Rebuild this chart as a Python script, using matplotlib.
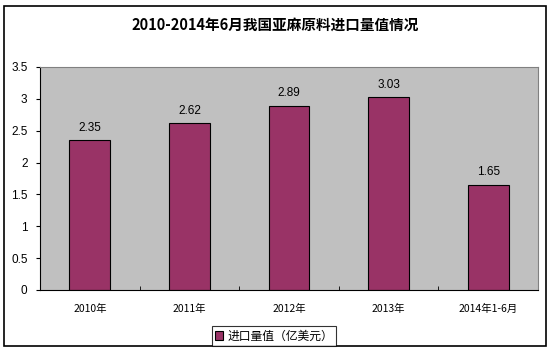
import matplotlib
matplotlib.use("Agg")
import matplotlib.pyplot as plt
from matplotlib.patches import Rectangle

plt.rcParams['font.family'] = ['Noto Sans CJK SC', 'DejaVu Sans']

categories = ["2010年", "2011年", "2012年", "2013年", "2014年1-6月"]
values = [2.35, 2.62, 2.89, 3.03, 1.65]
title = "2010-2014年6月我国亚麻原料进口量值情况"
legend_label = "进口量值（亿美元）"

W, H = 550, 353
fig = plt.figure(figsize=(W/100, H/100), dpi=100)
fig.patch.set_facecolor('white')
fig.patches.append(Rectangle((4/W, 1-346/H), 542/W, 340/H, transform=fig.transFigure,
                             fill=False, edgecolor='black', linewidth=1.2))

ax = fig.add_axes([40/W, 1-290/H, 498/W, 223/H])
ax.set_facecolor('#C0C0C0')
x = list(range(len(categories)))
bars = ax.bar(x, values, width=0.41, color='#993366', edgecolor='black', linewidth=0.8, label=legend_label)
for xi, v in zip(x, values):
    ax.text(xi, v + 0.1, f"{v:.2f}", ha='center', va='bottom', fontsize=8.5, family=['Liberation Sans', 'DejaVu Sans'])

ax.set_xlim(-0.5, len(categories) - 0.5)
ax.set_ylim(0, 3.5)
ax.set_yticks([0, 0.5, 1, 1.5, 2, 2.5, 3, 3.5])
ax.set_yticklabels(['0', '0.5', '1', '1.5', '2', '2.5', '3', '3.5'], family=['Liberation Sans', 'DejaVu Sans'], fontsize=8.5)
ax.set_xticks(x)
ax.set_xticklabels(categories, fontsize=7.5, family=['Noto Sans CJK SC', 'DejaVu Sans'])
ax.set_xticks([i + 0.5 for i in range(len(categories) - 1)], minor=True)
ax.tick_params(axis='x', which='major', length=0, pad=10)
ax.tick_params(axis='x', which='minor', length=3, direction='in')
ax.tick_params(axis='y', length=3, direction='out', pad=6)
for s in ['top', 'right']:
    ax.spines[s].set_color('#808080')
    ax.spines[s].set_linewidth(0.8)
ax.spines['left'].set_linewidth(0.8)
ax.spines['bottom'].set_linewidth(0.8)

fig.text(0.5, 1-25/H, title, ha='center', va='center', fontsize=10.5, fontweight='bold')

leg = fig.legend(handles=[bars], labels=[legend_label], loc='center', bbox_to_anchor=(274/W, 1-336/H),
                 frameon=True, fancybox=False, edgecolor='black', fontsize=8.5,
                 handlelength=0.7, handleheight=0.7, handletextpad=0.3, borderpad=0.3)
leg.get_frame().set_linewidth(0.8)

fig.savefig('out.png', dpi=100)
